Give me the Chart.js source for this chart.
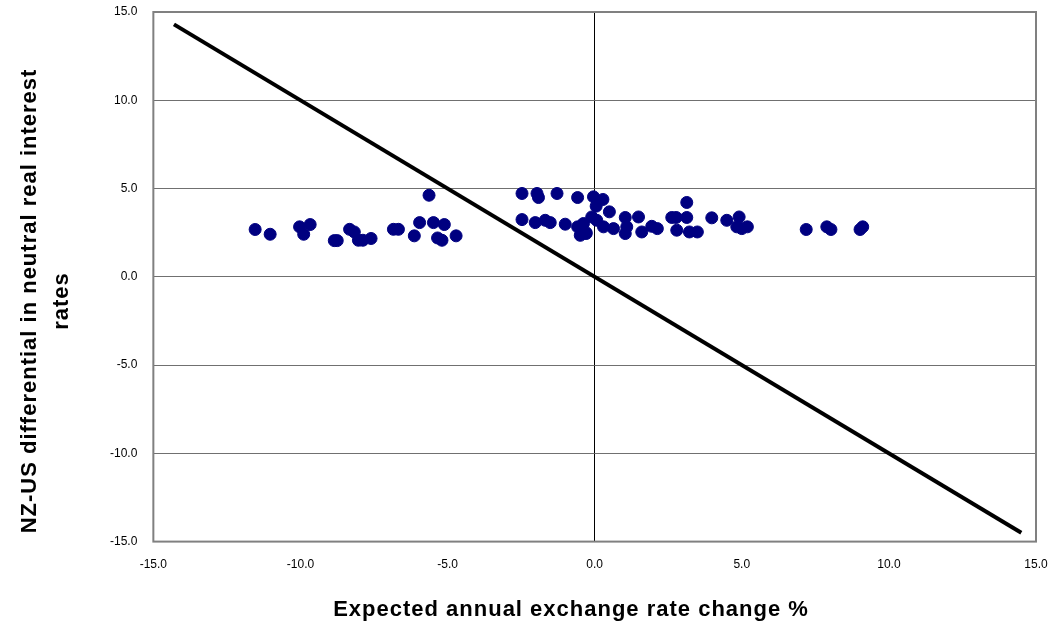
<!DOCTYPE html>
<html>
<head>
<meta charset="utf-8">
<script src="https://cdn.jsdelivr.net/npm/chart.js@4/dist/chart.umd.min.js"></script>
<style>
  html, body { margin:0; padding:0; background:#fff; }
  #wrap { width:1049px; height:627px; position:relative; }
</style>
</head>
<body>
<div id="wrap"><canvas id="c"></canvas></div>
<script>
// expected annual exchange rate change (%) vs NZ-US neutral real rate differential
const pointsX = [
  -11.54, -11.03, -10.03, -9.89, -9.67, -8.85, -8.75, -8.33, -8.17, -8.03, -7.88, -7.60,
  -6.84, -6.67, -6.13, -5.95, -5.63, -5.48, -5.34, -5.19, -5.11, -4.71,
  -2.47, -2.47, -2.02, -1.96, -1.91, -1.68, -1.51, -1.28, -1.00, -0.58, -0.58, -0.49, -0.38, -0.29, -0.29,
  -0.04, 0.05, 0.07, -0.10, 0.28, 0.30, 0.50, 0.64, 1.04, 1.09, 1.04,
  1.49, 1.60, 1.94, 2.13, 2.62, 2.79, 2.77, 3.13, 3.13, 3.22, 3.49,
  3.98, 4.49, 4.91, 4.83, 5.00, 5.19,
  7.19, 7.89, 8.03, 9.02, 9.11
];
const pointsY = [
  2.68, 2.41, 2.83, 2.41, 2.96, 2.05, 2.05, 2.69, 2.54, 2.07, 2.07, 2.17,
  2.69, 2.69, 2.32, 3.07, 4.62, 3.07, 2.20, 2.07, 2.96, 2.32,
  4.72, 3.24, 3.07, 4.72, 4.49, 3.20, 3.07, 4.72, 2.98, 4.49, 2.83, 2.35, 3.02, 2.50, 2.45,
  4.53, 4.00, 3.20, 3.39, 4.38, 2.83, 3.68, 2.73, 3.36, 2.83, 2.45,
  3.39, 2.54, 2.86, 2.73, 3.36, 2.64, 3.36, 4.21, 3.36, 2.54, 2.54,
  3.34, 3.20, 3.39, 2.83, 2.73, 2.83,
  2.68, 2.83, 2.68, 2.68, 2.83
];
// 45-degree reference line (uncovered interest parity)
const lineX = [-14.3, 14.5];
const lineY = [14.3, -14.5];

const xTicks = [-15, -10, -5, 0, 5, 10, 15];
const yTicks = [15, 10, 5, 0, -5, -10, -15];

const tickFont = { family:'"Liberation Sans", Arial, sans-serif', size:12 };

const scatterData = pointsX.map((x,i)=>({ x, y: pointsY[i] }));
const lineData = lineX.map((x,i)=>({ x, y: lineY[i] }));

const framePlugin = {
  id:'frame',
  beforeDatasetsDraw(chart){
    const {ctx, chartArea:a} = chart;
    ctx.save();
    ctx.strokeStyle = '#808080';
    ctx.lineWidth = 2;
    ctx.strokeRect(a.left, a.top, a.right-a.left, a.bottom-a.top);
    ctx.restore();
  },
  afterDraw(chart){
    const {ctx} = chart;
    ctx.save();
    ctx.fillStyle = '#000';
    ctx.font = 'bold 22px "Liberation Sans", Arial, sans-serif';
    ctx.letterSpacing = '1px';
    ctx.textAlign = 'center';
    ctx.textBaseline = 'middle';
    ctx.fillText('Expected annual exchange rate change %', 571, 610);
    ctx.rotate(-Math.PI/2);
    ctx.fillText('NZ-US differential in neutral real interest', -301, 30);
    ctx.fillText('rates', -301, 62);
    ctx.restore();
  }
};

new Chart(document.getElementById('c'), {
  type:'scatter',
  data:{
    datasets:[
      {
        data: scatterData,
        backgroundColor:'#000080',
        borderColor:'#000080',
        pointRadius:6,
        pointBorderWidth:1,
        order:1
      },
      {
        type:'line',
        data: lineData,
        borderColor:'#000',
        borderWidth:4,
        pointRadius:0,
        fill:false,
        order:2
      }
    ]
  },
  options:{
    responsive:true,
    maintainAspectRatio:false,
    animation:false,
    layout:{ padding:{ left:94, right:13, top:12, bottom:39 } },
    plugins:{ legend:{ display:false }, tooltip:{ enabled:false } },
    scales:{
      x:{
        type:'linear', min:-15, max:15,
        afterBuildTicks: s => { s.ticks = xTicks.map(v=>({ value:v })); },
        afterFit: s => { s.paddingLeft = 0; s.paddingRight = 0; },
        grid:{
          drawTicks:false,
          color: c => c.tick && c.tick.value === 0 ? '#000' : 'rgba(0,0,0,0)',
          lineWidth:1
        },
        border:{ display:false },
        ticks:{ color:'#000', font:tickFont, padding:16, maxRotation:0, callback:v=>v.toFixed(1) }
      },
      y:{
        type:'linear', min:-15, max:15,
        afterBuildTicks: s => { s.ticks = yTicks.map(v=>({ value:v })); },
        afterFit: s => { s.paddingTop = 0; s.paddingBottom = 0; },
        grid:{ drawTicks:false, color:'#707070', lineWidth:1 },
        border:{ display:false },
        ticks:{ color:'#000', font:tickFont, padding:16, callback:v=>v.toFixed(1) }
      }
    }
  },
  plugins:[framePlugin]
});
</script>
</body>
</html>
